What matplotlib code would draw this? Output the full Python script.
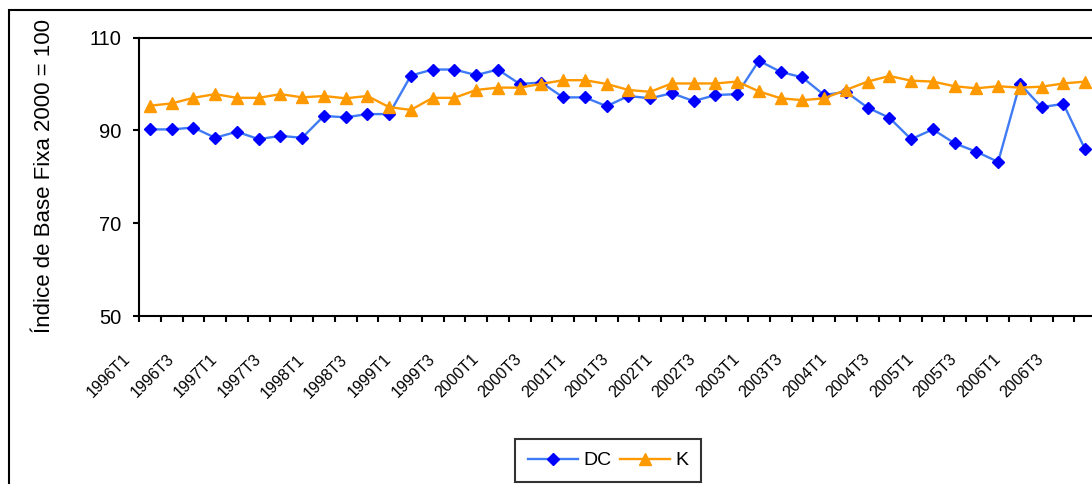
import matplotlib
matplotlib.use('Agg')
import matplotlib.pyplot as plt
import matplotlib.transforms as mtransforms
from matplotlib.patches import Rectangle

plt.rcParams['font.family'] = ['Liberation Sans', 'DejaVu Sans']

# ---- data ----
years = list(range(1996, 2007))
quarters = [f"{y}T{q}" for y in years for q in range(1, 5)]
tick_labels = quarters[::2]

dc = [90.2, 90.2, 90.6, 88.4, 89.7, 88.1, 88.8, 88.4, 93.1, 92.8, 93.5, 93.5,
      101.8, 103.1, 103.1, 101.9, 103.1, 100.0, 100.3, 97.1, 97.1, 95.2, 97.4, 96.9,
      98.0, 96.3, 97.6, 97.8, 105.0, 102.6, 101.4, 97.6, 98.3, 94.9, 92.7, 88.1,
      90.2, 87.2, 85.4, 83.2, 100.0, 95.0, 95.7, 85.9]
k = [95.3, 95.8, 97.0, 97.8, 97.0, 97.0, 97.8, 97.1, 97.4, 96.9, 97.4, 95.0,
     94.4, 97.0, 97.0, 98.7, 99.2, 99.2, 100.0, 100.8, 100.8, 100.0, 98.7, 98.3,
     100.1, 100.1, 100.1, 100.5, 98.4, 96.9, 96.5, 96.9, 98.7, 100.5, 101.7, 100.7,
     100.5, 99.5, 99.05, 99.5, 99.2, 99.4, 100.1, 100.5]
y_ticks = [50, 70, 90, 110]
y_label = "Índice de Base Fixa 2000 = 100"

# ---- figure ----
fig = plt.figure(figsize=(10.92, 4.84), dpi=100)
ax = fig.add_axes([139 / 1092, 1 - 316 / 484, 957 / 1092, (316 - 37.5) / 484])

x = list(range(len(quarters)))
ax.plot(x, dc, color='#3F7BF5', lw=1.7, marker='D', ms=6.5,
        mfc='#0000FF', mec='#0000FF', label='DC', zorder=3, clip_on=False)
ax.plot(x, k, color='#FF9900', lw=1.7, marker='^', ms=9,
        mfc='#FF9900', mec='#FF9900', label='K', zorder=4, clip_on=False)

ax.set_xlim(-0.5, len(quarters) - 0.5)
ax.set_ylim(y_ticks[0], y_ticks[-1])
ax.set_yticks(y_ticks)
ax.set_yticklabels([str(v) for v in y_ticks], fontsize=14.5)

ax.set_xticks(x[::2])
ax.set_xticklabels(tick_labels, rotation=45, ha='right', va='center',
                   rotation_mode='anchor', fontsize=11.5)
ax.set_xticks([i - 0.5 for i in range(len(quarters) + 1)], minor=True)
ax.tick_params(axis='x', which='major', length=0, pad=0)
ax.tick_params(axis='x', which='minor', length=4.5, width=1.5, direction='out')
ax.tick_params(axis='y', which='major', length=4.5, width=1.5, pad=8, direction='out')

offset = mtransforms.ScaledTranslation(-22 / 100, -41 / 100, fig.dpi_scale_trans)
for lab in ax.get_xticklabels():
    lab.set_transform(lab.get_transform() + offset)

for s in ax.spines.values():
    s.set_color('black')
    s.set_linewidth(1.5)

fig.text(45 / 1092, 1 - 176 / 484, y_label, rotation=90, ha='center', va='center',
         fontsize=16)

leg = fig.legend(loc='center', bbox_to_anchor=(608 / 1092, 1 - 460.5 / 484), ncol=2,
                 frameon=True, fancybox=False, edgecolor='black', fontsize=14,
                 handlelength=2.6, handletextpad=0.25, columnspacing=0.45,
                 borderpad=0.65, borderaxespad=0)
leg.get_frame().set_linewidth(1.5)

fig.add_artist(Rectangle((9 / 1092, -0.5), 2, 0.5 + 1 - 10 / 484,
                         transform=fig.transFigure, fill=False,
                         edgecolor='black', linewidth=1.5, clip_on=False))

fig.savefig('out.png', dpi=100)
